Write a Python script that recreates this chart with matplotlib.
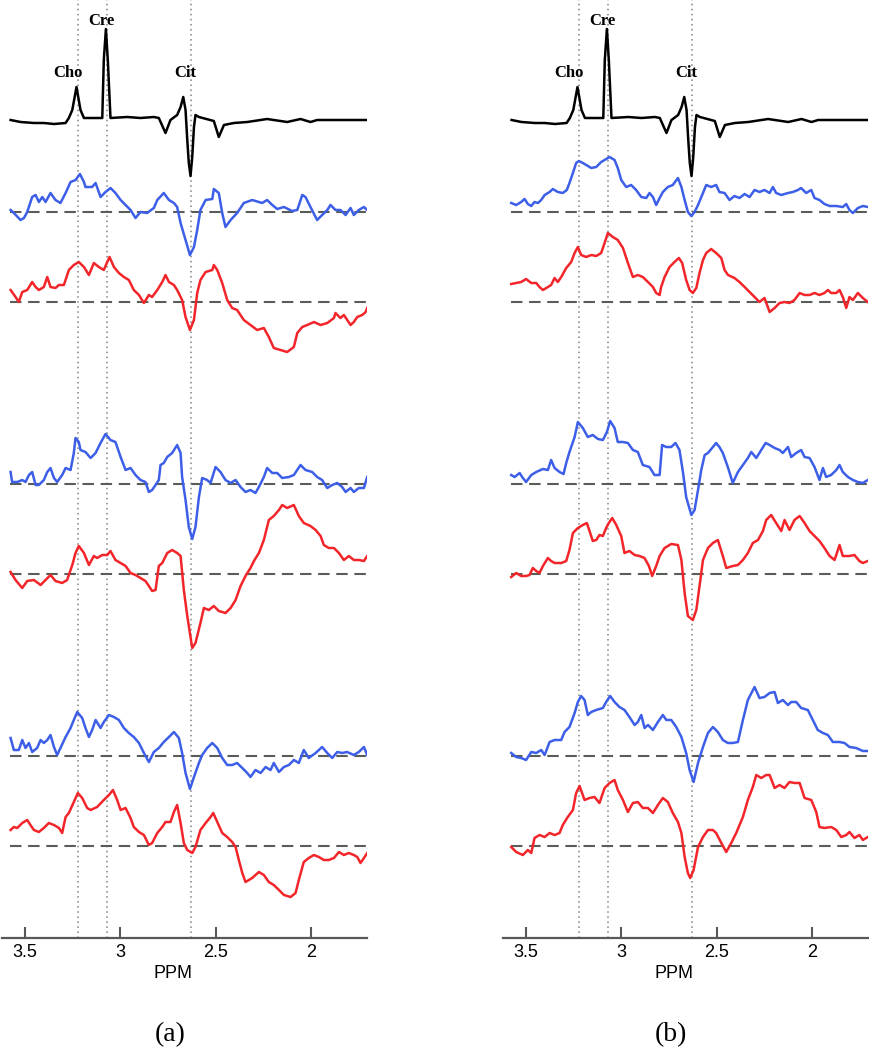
import numpy as np
import matplotlib.pyplot as plt

# metabolite positions (ppm) and their labels
peak_names = ["Cho", "Cre", "Cit"]
peak_ppm = [3.22, 3.066, 2.626]
label_ppm = [3.275, 3.097, 2.66]
label_height = [47, 99, 47]

# reference spectrum (ppm, amplitude), same in both panels
reference = [(3.573, 0), (3.521, -2), (3.451, -3), (3.399, -3), (3.346, -4), (3.285, -3),
             (3.268, 2), (3.250, 10), (3.228, 33), (3.207, 10), (3.189, 2), (3.102, 2),
             (3.093, 2), (3.085, 60), (3.074, 91), (3.064, 60), (3.050, 2), (2.962, 3),
             (2.893, 2), (2.823, 3), (2.797, 2), (2.762, -13), (2.736, 0), (2.701, 5),
             (2.683, 13), (2.669, 23), (2.657, 10), (2.648, -20), (2.640, -43), (2.631, -56),
             (2.622, -37), (2.613, -7), (2.605, 5), (2.587, 3), (2.509, -1), (2.483, -17),
             (2.456, -5), (2.404, -3), (2.334, -2), (2.230, 1), (2.125, -2), (2.055, 1),
             (2.003, -2), (1.968, 0), (1.706, 0)]

# panel (a)
a_blue1 = [(3.573, 2), (3.556, -1), (3.521, -8), (3.503, -6), (3.486, 0), (3.460, 15),
           (3.442, 17), (3.425, 10), (3.407, 15), (3.390, 10), (3.364, 19), (3.338, 12),
           (3.312, 9), (3.285, 19), (3.259, 30), (3.233, 32), (3.210, 38), (3.189, 30),
           (3.181, 25), (3.146, 25), (3.128, 29), (3.102, 15), (3.076, 20), (3.050, 24),
           (3.024, 19), (2.997, 12), (2.971, 7), (2.945, 2), (2.919, -6), (2.893, 0),
           (2.858, -1), (2.823, 4), (2.805, 12), (2.771, 19), (2.744, 12), (2.718, 9),
           (2.701, 5), (2.683, -11), (2.657, -28), (2.634, -43), (2.613, -35), (2.596, -18),
           (2.579, 2), (2.552, 12), (2.517, 13), (2.509, 23), (2.483, 19), (2.465, -1),
           (2.448, -15), (2.421, -8), (2.387, -1), (2.352, 9), (2.308, 12), (2.273, 10),
           (2.256, 9), (2.230, 12), (2.203, 7), (2.177, 3), (2.142, 5), (2.099, 1),
           (2.072, 2), (2.046, 17), (2.029, 15), (2.003, 5), (1.968, -8), (1.942, -3),
           (1.915, 2), (1.898, 7), (1.872, 2), (1.846, 2), (1.819, -3), (1.793, 4),
           (1.776, -3), (1.750, 2), (1.723, 5), (1.706, 2)]
a_red1 = [(3.573, 12), (3.547, 5), (3.530, 0), (3.512, 10), (3.486, 12), (3.460, 20),
          (3.442, 15), (3.425, 12), (3.399, 15), (3.381, 25), (3.364, 15), (3.338, 14),
          (3.320, 17), (3.294, 17), (3.268, 32), (3.242, 37), (3.216, 40), (3.189, 35),
          (3.163, 27), (3.137, 39), (3.111, 35), (3.085, 32), (3.067, 40), (3.055, 45),
          (3.032, 35), (3.006, 29), (2.980, 25), (2.954, 22), (2.928, 12), (2.901, 7),
          (2.875, -1), (2.849, 7), (2.832, 5), (2.805, 12), (2.779, 20), (2.762, 27),
          (2.744, 20), (2.718, 17), (2.701, 12), (2.675, 2), (2.657, -15), (2.634, -28),
          (2.613, -18), (2.596, 9), (2.579, 22), (2.552, 30), (2.517, 32), (2.509, 37),
          (2.491, 32), (2.465, 19), (2.439, 2), (2.413, -6), (2.387, -8), (2.352, -18),
          (2.317, -23), (2.282, -28), (2.247, -26), (2.221, -35), (2.195, -46), (2.160, -48),
          (2.125, -50), (2.090, -45), (2.072, -31), (2.046, -25), (2.020, -23), (1.985, -20),
          (1.950, -23), (1.915, -21), (1.880, -16), (1.872, -11), (1.846, -16), (1.828, -13),
          (1.793, -23), (1.776, -20), (1.758, -15), (1.732, -13), (1.714, -10), (1.706, -6)]
a_blue2 = [(3.573, 12), (3.565, 2), (3.538, 2), (3.512, 4), (3.495, 2), (3.477, 9),
           (3.460, 12), (3.442, -1), (3.425, -1), (3.399, 4), (3.381, 12), (3.364, 16),
           (3.346, 6), (3.329, 2), (3.303, 9), (3.285, 16), (3.259, 14), (3.242, 31),
           (3.233, 46), (3.216, 42), (3.207, 34), (3.181, 32), (3.154, 26), (3.128, 31),
           (3.102, 41), (3.076, 50), (3.050, 44), (3.024, 42), (2.997, 27), (2.971, 14),
           (2.945, 16), (2.919, 9), (2.893, 4), (2.867, 2), (2.849, -8), (2.832, -6),
           (2.814, -1), (2.797, 4), (2.788, 19), (2.771, 21), (2.753, 27), (2.727, 31),
           (2.701, 39), (2.683, 31), (2.675, 7), (2.657, -16), (2.640, -43), (2.622, -55),
           (2.605, -43), (2.587, -13), (2.570, 6), (2.544, 4), (2.526, 1), (2.500, 17),
           (2.474, 12), (2.448, 4), (2.421, 1), (2.395, 4), (2.369, -3), (2.343, -8),
           (2.317, -6), (2.291, -9), (2.273, -3), (2.247, 7), (2.230, 16), (2.203, 11),
           (2.177, 11), (2.151, 6), (2.116, 7), (2.090, 9), (2.055, 19), (2.029, 14),
           (1.994, 12), (1.968, 7), (1.942, 4), (1.915, -4), (1.889, -1), (1.863, 1),
           (1.837, -3), (1.819, -8), (1.793, -4), (1.776, -8), (1.750, -4), (1.723, -4),
           (1.706, 7)]
a_red2 = [(3.573, 2), (3.547, -6), (3.512, -14), (3.486, -7), (3.451, -6), (3.416, -11),
          (3.390, -6), (3.364, -1), (3.338, -7), (3.303, -9), (3.277, -6), (3.250, 9),
          (3.233, 21), (3.216, 28), (3.189, 21), (3.163, 9), (3.137, 18), (3.120, 16),
          (3.093, 19), (3.067, 19), (3.050, 23), (3.024, 14), (2.997, 11), (2.971, 8),
          (2.945, 1), (2.919, -1), (2.893, -4), (2.867, -7), (2.849, -12), (2.832, -17),
          (2.814, -16), (2.797, 8), (2.779, 11), (2.753, 21), (2.727, 24), (2.701, 21),
          (2.683, 18), (2.666, -16), (2.648, -42), (2.622, -74), (2.605, -69), (2.579, -49),
          (2.561, -34), (2.535, -36), (2.509, -32), (2.483, -37), (2.448, -39), (2.421, -34),
          (2.395, -26), (2.369, -12), (2.343, -2), (2.317, 6), (2.299, 13), (2.273, 21),
          (2.247, 34), (2.221, 54), (2.195, 58), (2.168, 64), (2.151, 69), (2.125, 66),
          (2.090, 69), (2.064, 58), (2.038, 51), (2.003, 48), (1.976, 44), (1.950, 38),
          (1.933, 29), (1.907, 26), (1.880, 26), (1.854, 21), (1.828, 14), (1.802, 18),
          (1.776, 14), (1.750, 14), (1.723, 13), (1.706, 18)]
a_blue3 = [(3.573, 18), (3.556, 6), (3.530, 6), (3.512, 16), (3.495, 8), (3.477, 13),
           (3.460, 4), (3.434, 8), (3.416, 16), (3.399, 13), (3.381, 16), (3.364, 21),
           (3.346, 9), (3.329, 1), (3.312, 8), (3.285, 19), (3.259, 28), (3.242, 36),
           (3.224, 44), (3.198, 38), (3.181, 28), (3.163, 19), (3.146, 26), (3.128, 36),
           (3.102, 28), (3.085, 34), (3.058, 41), (3.032, 39), (3.006, 36), (2.980, 28),
           (2.954, 23), (2.928, 19), (2.901, 13), (2.875, 3), (2.849, -6), (2.823, 4),
           (2.797, 8), (2.771, 14), (2.744, 19), (2.718, 24), (2.692, 18), (2.675, 3),
           (2.657, -17), (2.634, -33), (2.613, -21), (2.587, -7), (2.570, 1), (2.544, 8),
           (2.517, 13), (2.491, 8), (2.465, -2), (2.439, -9), (2.413, -9), (2.387, -7),
           (2.360, -12), (2.334, -17), (2.317, -21), (2.291, -14), (2.264, -17), (2.238, -11),
           (2.212, -14), (2.195, -7), (2.168, -16), (2.142, -11), (2.116, -9), (2.090, -4),
           (2.064, -7), (2.038, 6), (2.012, -2), (1.976, 3), (1.942, 9), (1.915, 3),
           (1.889, -2), (1.863, 4), (1.837, 3), (1.811, 4), (1.776, 1), (1.750, 4),
           (1.723, 9), (1.706, 1)]
a_red3 = [(3.573, 16), (3.556, 19), (3.538, 18), (3.512, 23), (3.486, 26), (3.469, 21),
          (3.451, 16), (3.425, 14), (3.399, 18), (3.373, 23), (3.346, 21), (3.320, 18),
          (3.303, 13), (3.285, 29), (3.268, 33), (3.242, 44), (3.221, 53), (3.198, 48),
          (3.172, 38), (3.154, 36), (3.120, 39), (3.085, 46), (3.058, 51), (3.037, 56),
          (3.015, 46), (2.997, 36), (2.971, 38), (2.945, 28), (2.928, 19), (2.901, 14),
          (2.875, 11), (2.849, 1), (2.832, 3), (2.805, 13), (2.779, 19), (2.762, 24),
          (2.736, 24), (2.718, 34), (2.701, 41), (2.683, 23), (2.666, 3), (2.648, -4),
          (2.622, -7), (2.605, -1), (2.579, 16), (2.552, 23), (2.526, 29), (2.512, 33),
          (2.491, 24), (2.465, 13), (2.439, 9), (2.413, 4), (2.395, -1), (2.378, -14),
          (2.360, -27), (2.343, -36), (2.308, -32), (2.273, -26), (2.247, -29), (2.221, -36),
          (2.195, -39), (2.168, -44), (2.142, -49), (2.107, -51), (2.081, -47), (2.064, -34),
          (2.038, -16), (2.012, -12), (1.985, -9), (1.959, -11), (1.933, -14), (1.907, -14),
          (1.880, -12), (1.854, -6), (1.828, -9), (1.802, -7), (1.776, -9), (1.758, -11),
          (1.741, -17), (1.723, -12), (1.706, -7)]

# panel (b)
b_blue1 = [(3.575, 9), (3.549, 7), (3.523, 10), (3.505, 13), (3.488, 8), (3.470, 6),
           (3.453, 10), (3.435, 9), (3.418, 12), (3.400, 17), (3.374, 20), (3.357, 23),
           (3.331, 20), (3.305, 19), (3.284, 22), (3.270, 29), (3.252, 39), (3.235, 49),
           (3.221, 51), (3.200, 49), (3.182, 47), (3.156, 44), (3.130, 45), (3.104, 50),
           (3.086, 52), (3.060, 55), (3.034, 52), (3.017, 44), (2.999, 32), (2.973, 25),
           (2.947, 27), (2.921, 22), (2.894, 15), (2.868, 14), (2.851, 19), (2.833, 15),
           (2.816, 7), (2.798, 14), (2.781, 20), (2.755, 25), (2.729, 27), (2.702, 34),
           (2.684, 25), (2.667, 12), (2.650, 0), (2.632, -4), (2.615, 0), (2.597, 7),
           (2.571, 19), (2.554, 27), (2.528, 25), (2.502, 27), (2.485, 20), (2.458, 19),
           (2.432, 12), (2.406, 16), (2.380, 14), (2.353, 18), (2.327, 15), (2.301, 22),
           (2.275, 20), (2.249, 22), (2.222, 19), (2.205, 25), (2.188, 19), (2.161, 17),
           (2.126, 19), (2.100, 20), (2.074, 22), (2.057, 24), (2.031, 19), (2.004, 22),
           (1.987, 14), (1.961, 12), (1.935, 8), (1.908, 6), (1.873, 6), (1.839, 5),
           (1.821, 8), (1.804, 2), (1.786, -1), (1.760, 4), (1.734, 6), (1.708, 5)]
b_red1 = [(3.575, 18), (3.549, 19), (3.523, 20), (3.497, 23), (3.470, 19), (3.444, 19),
          (3.427, 15), (3.409, 12), (3.383, 15), (3.366, 17), (3.348, 24), (3.331, 20),
          (3.313, 25), (3.287, 34), (3.261, 40), (3.243, 49), (3.226, 55), (3.209, 47),
          (3.182, 45), (3.156, 47), (3.130, 46), (3.104, 49), (3.086, 59), (3.069, 69),
          (3.043, 65), (3.017, 62), (2.990, 54), (2.964, 39), (2.938, 25), (2.912, 27),
          (2.886, 25), (2.859, 20), (2.833, 15), (2.816, 9), (2.798, 7), (2.790, 15),
          (2.772, 25), (2.746, 35), (2.720, 40), (2.697, 44), (2.680, 39), (2.659, 22),
          (2.641, 12), (2.624, 9), (2.606, 14), (2.589, 29), (2.571, 42), (2.554, 49),
          (2.528, 53), (2.502, 49), (2.475, 44), (2.458, 32), (2.440, 27), (2.406, 24),
          (2.380, 20), (2.353, 15), (2.327, 10), (2.301, 5), (2.275, 0), (2.249, 4),
          (2.222, -10), (2.196, -6), (2.170, -1), (2.144, 0), (2.118, -1), (2.092, 2),
          (2.065, 9), (2.039, 7), (2.013, 7), (1.987, 9), (1.961, 7), (1.935, 9),
          (1.917, 12), (1.900, 9), (1.873, 9), (1.856, 12), (1.839, 5), (1.821, -6),
          (1.804, 5), (1.786, 2), (1.760, 9), (1.734, 4), (1.708, 0)]
b_blue2 = [(3.575, 9), (3.557, 7), (3.531, 11), (3.514, 6), (3.497, 2), (3.470, 9),
           (3.444, 12), (3.409, 15), (3.383, 14), (3.366, 24), (3.348, 16), (3.322, 12),
           (3.301, 10), (3.287, 21), (3.270, 32), (3.243, 47), (3.226, 62), (3.200, 56),
           (3.174, 47), (3.148, 49), (3.121, 45), (3.095, 44), (3.074, 52), (3.057, 63),
           (3.034, 56), (3.017, 42), (2.990, 42), (2.964, 41), (2.938, 34), (2.912, 32),
           (2.886, 19), (2.851, 17), (2.825, 9), (2.798, 9), (2.785, 39), (2.764, 37),
           (2.737, 37), (2.715, 41), (2.694, 34), (2.676, 12), (2.659, -13), (2.632, -31),
           (2.615, -26), (2.597, -6), (2.580, 14), (2.562, 29), (2.545, 31), (2.519, 37),
           (2.502, 41), (2.485, 37), (2.467, 31), (2.441, 17), (2.415, 1), (2.388, 12),
           (2.362, 19), (2.336, 26), (2.318, 32), (2.292, 26), (2.266, 34), (2.243, 41),
           (2.222, 39), (2.196, 36), (2.170, 34), (2.153, 31), (2.126, 37), (2.109, 27),
           (2.083, 31), (2.057, 34), (2.039, 27), (2.013, 26), (1.987, 17), (1.961, 4),
           (1.943, 16), (1.926, 7), (1.900, 9), (1.873, 14), (1.856, 19), (1.839, 12),
           (1.812, 7), (1.786, 4), (1.760, 2), (1.734, 1), (1.708, 4)]
b_red2 = [(3.575, -3), (3.549, 1), (3.523, -2), (3.497, -2), (3.479, -1), (3.462, 6),
          (3.444, 3), (3.427, 1), (3.409, 8), (3.383, 16), (3.366, 13), (3.348, 11),
          (3.313, 11), (3.287, 13), (3.270, 24), (3.252, 41), (3.226, 46), (3.200, 49),
          (3.179, 51), (3.165, 43), (3.148, 33), (3.130, 34), (3.113, 39), (3.095, 38),
          (3.078, 46), (3.064, 51), (3.046, 56), (3.025, 49), (2.999, 38), (2.982, 21),
          (2.956, 23), (2.929, 19), (2.903, 18), (2.877, 16), (2.854, 8), (2.837, -2),
          (2.816, 8), (2.798, 18), (2.772, 26), (2.737, 30), (2.702, 29), (2.684, 14),
          (2.667, -19), (2.650, -42), (2.624, -46), (2.606, -36), (2.589, -12), (2.571, 14),
          (2.545, 26), (2.519, 31), (2.493, 34), (2.467, 18), (2.449, 6), (2.415, 8),
          (2.388, 9), (2.362, 14), (2.336, 21), (2.310, 31), (2.283, 34), (2.257, 43),
          (2.240, 54), (2.214, 59), (2.188, 51), (2.161, 43), (2.144, 54), (2.118, 44),
          (2.092, 54), (2.065, 58), (2.039, 51), (2.013, 43), (1.987, 38), (1.961, 33),
          (1.935, 26), (1.908, 18), (1.882, 14), (1.856, 29), (1.839, 18), (1.804, 18),
          (1.778, 19), (1.752, 13), (1.734, 11), (1.708, 13)]
b_blue3 = [(3.575, 3), (3.549, -1), (3.523, -2), (3.497, -4), (3.470, 4), (3.444, 3),
           (3.418, 6), (3.400, 1), (3.374, 14), (3.348, 16), (3.313, 16), (3.296, 24),
           (3.270, 29), (3.243, 43), (3.226, 54), (3.209, 60), (3.191, 56), (3.174, 41),
           (3.156, 44), (3.130, 46), (3.095, 48), (3.078, 54), (3.057, 60), (3.034, 54),
           (3.008, 49), (2.982, 46), (2.956, 39), (2.929, 31), (2.912, 34), (2.894, 41),
           (2.877, 28), (2.859, 31), (2.833, 26), (2.807, 34), (2.781, 41), (2.763, 36),
           (2.737, 36), (2.711, 29), (2.684, 19), (2.659, 3), (2.641, -14), (2.620, -26),
           (2.597, -7), (2.571, 9), (2.545, 23), (2.519, 29), (2.493, 24), (2.467, 16),
           (2.441, 13), (2.415, 13), (2.388, 14), (2.362, 36), (2.336, 56), (2.301, 69),
           (2.275, 58), (2.249, 59), (2.222, 63), (2.196, 64), (2.179, 53), (2.153, 56),
           (2.126, 51), (2.109, 54), (2.083, 54), (2.057, 48), (2.022, 46), (1.996, 36),
           (1.970, 26), (1.943, 23), (1.917, 21), (1.891, 14), (1.856, 14), (1.830, 13),
           (1.804, 9), (1.769, 8), (1.734, 5), (1.708, 5)]
b_red3 = [(3.575, -1), (3.549, -6), (3.514, -9), (3.488, -4), (3.470, -7), (3.453, 8),
          (3.427, 11), (3.400, 9), (3.374, 13), (3.348, 11), (3.322, 13), (3.305, 21),
          (3.279, 29), (3.252, 36), (3.235, 53), (3.217, 60), (3.191, 46), (3.165, 48),
          (3.139, 49), (3.113, 43), (3.086, 58), (3.060, 63), (3.034, 66), (3.017, 56),
          (2.990, 46), (2.964, 34), (2.938, 43), (2.912, 44), (2.886, 38), (2.859, 38),
          (2.833, 33), (2.807, 41), (2.781, 48), (2.755, 44), (2.729, 33), (2.702, 24),
          (2.684, 13), (2.667, -11), (2.650, -27), (2.638, -32), (2.620, -24), (2.597, -1),
          (2.571, 9), (2.545, 16), (2.519, 16), (2.502, 13), (2.475, 3), (2.449, -6),
          (2.423, 3), (2.397, 13), (2.362, 29), (2.336, 46), (2.310, 59), (2.292, 71),
          (2.266, 68), (2.240, 71), (2.222, 71), (2.196, 58), (2.170, 61), (2.144, 58),
          (2.118, 64), (2.092, 63), (2.065, 63), (2.039, 48), (2.004, 46), (1.978, 34),
          (1.961, 19), (1.935, 18), (1.900, 19), (1.873, 16), (1.847, 9), (1.821, 11),
          (1.804, 14), (1.778, 8), (1.752, 11), (1.734, 6), (1.708, 9)]

# vertical offsets of the stacked spectra
ref_offset = 818
blue_offsets = [726, 454, 182]
red_offsets = [636, 364, 92]

BLUE = "#3d5fe8"
RED = "#f2252a"
GREY = "#585d58"

panels = [
    ("(a)", 2, [a_blue1, a_blue2, a_blue3], [a_red1, a_red2, a_red3]),
    ("(b)", 503, [b_blue1, b_blue2, b_blue3], [b_red1, b_red2, b_red3]),
]

fig = plt.figure(figsize=(8.7, 10.5), dpi=100)

for tag, left_px, blues, reds in panels:
    ax = fig.add_axes([left_px / 870, 112 / 1050, 365 / 870, 938 / 1050])
    ax.set_xlim(3.618, 1.707)
    ax.set_ylim(0, 938)

    for p in peak_ppm:
        ax.axvline(p, color="#7d827d", lw=1.1, ls=(0, (1, 2.3)), zorder=1)

    for off in blue_offsets + red_offsets:
        ax.hlines(off, 3.575, 1.706, colors=GREY, lw=1.5,
                  linestyles=(0, (5.5, 3.2)), zorder=2)

    x, y = np.array(reference, dtype=float).T
    ax.plot(x, y + ref_offset, color="black", lw=1.8, zorder=3)
    for name, lp, h in zip(peak_names, label_ppm, label_height):
        ax.text(lp, ref_offset + h, name, ha="center", va="center",
                fontsize=12, fontweight="bold", family="Liberation Serif")

    for trace, off in zip(blues, blue_offsets):
        x, y = np.array(trace, dtype=float).T
        ax.plot(x, y + off, color=BLUE, lw=1.8, zorder=3)
    for trace, off in zip(reds, red_offsets):
        x, y = np.array(trace, dtype=float).T
        ax.plot(x, y + off, color=RED, lw=1.8, zorder=3)

    for s in ["top", "left", "right"]:
        ax.spines[s].set_visible(False)
    ax.spines["bottom"].set_color("#555a55")
    ax.spines["bottom"].set_linewidth(1.6)
    ax.set_yticks([])
    ax.set_xticks([3.5, 3, 2.5, 2])
    ax.set_xticklabels(["3.5", "3", "2.5", "2"], family="Liberation Sans")
    ax.tick_params(axis="x", direction="in", length=8, width=1.5,
                   color="#555a55", labelsize=13, pad=4)
    ax.set_xlabel("PPM", fontsize=13, family="Liberation Sans")
    ax.xaxis.set_label_coords(0.468, -0.029)

    fig.text((left_px + 168) / 870, 1 - 1035 / 1050, tag, ha="center", va="center",
             fontsize=20, family="Liberation Serif")

fig.savefig("out.png", dpi=100)
